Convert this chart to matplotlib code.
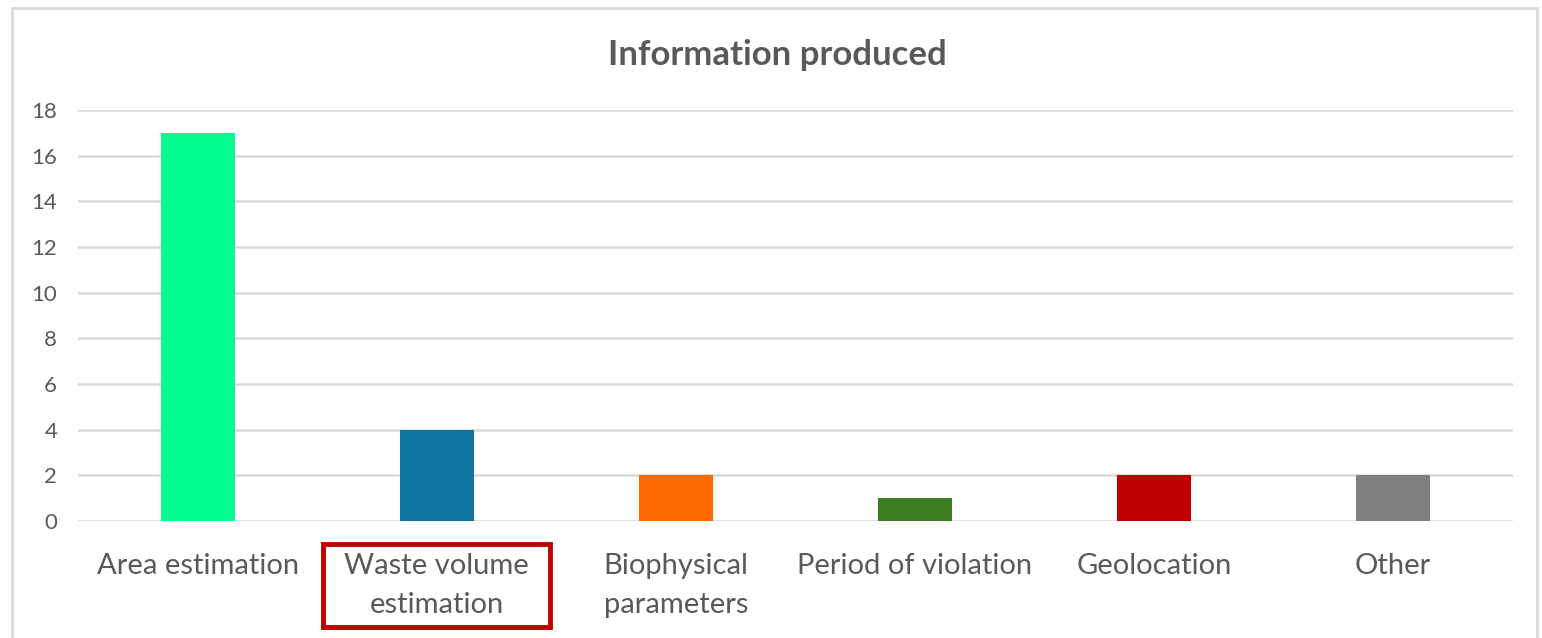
import matplotlib.pyplot as plt
from matplotlib.patches import Rectangle

# Information produced - bar chart of counts per category
categories = ["Area estimation", "Waste volume\nestimation", "Biophysical\nparameters",
              "Period of violation", "Geolocation", "Other"]
counts = [17, 4, 2, 1, 2, 2]
bar_colors = ["#00FF90", "#0E76A0", "#FF6A00", "#3A7D22", "#C00000", "#808080"]
y_ticks = list(range(0, 20, 2))

plt.rcParams['font.family'] = ['Lato', 'DejaVu Sans']
text_color = "#595959"

fig = plt.figure(figsize=(15.42, 6.38), dpi=100)
ax = fig.add_axes([0.0506, 0.1834, 0.9304, 0.6442])

x = list(range(len(categories)))
ax.bar(x, counts, width=0.31, color=bar_colors, zorder=3)

ax.set_xlim(-0.5, len(categories) - 0.5)
ax.set_ylim(0, 18)
ax.set_yticks(y_ticks)
ax.set_yticklabels([str(t) for t in y_ticks], fontsize=16, color=text_color)
ax.set_xticks(x)
ax.set_xticklabels(categories, fontsize=21, color=text_color, linespacing=1.6)
ax.tick_params(axis='both', length=0)
ax.tick_params(axis='y', pad=15)
ax.tick_params(axis='x', pad=23)
ax.grid(axis='y', color="#D9D9D9", linewidth=1.8, zorder=0)
for side in ax.spines:
    ax.spines[side].set_visible(False)

# title is centred on the whole chart area
fig.text(0.504, 1 - 55 / 638, "Information produced", fontsize=25, fontweight='bold',
         color=text_color, ha='center', va='center')

# red box around the highlighted label
fig.canvas.draw()
bb = ax.get_xticklabels()[1].get_window_extent()
pad_x, pad_y = 21, 9
fig.patches.append(Rectangle((bb.x0 - pad_x, bb.y0 - pad_y), bb.width + 2 * pad_x, bb.height + 2 * pad_y,
                             transform=None, fill=False, edgecolor="#C00000", linewidth=3.5))

# light outer chart border
fig.patches.append(Rectangle((12 / 1542, -0.02), (1537 - 12) / 1542, 1.02 - 8 / 638,
                             transform=fig.transFigure, fill=False, edgecolor="#D9D9D9", linewidth=2))

fig.savefig("out.png", dpi=100, facecolor="white")
